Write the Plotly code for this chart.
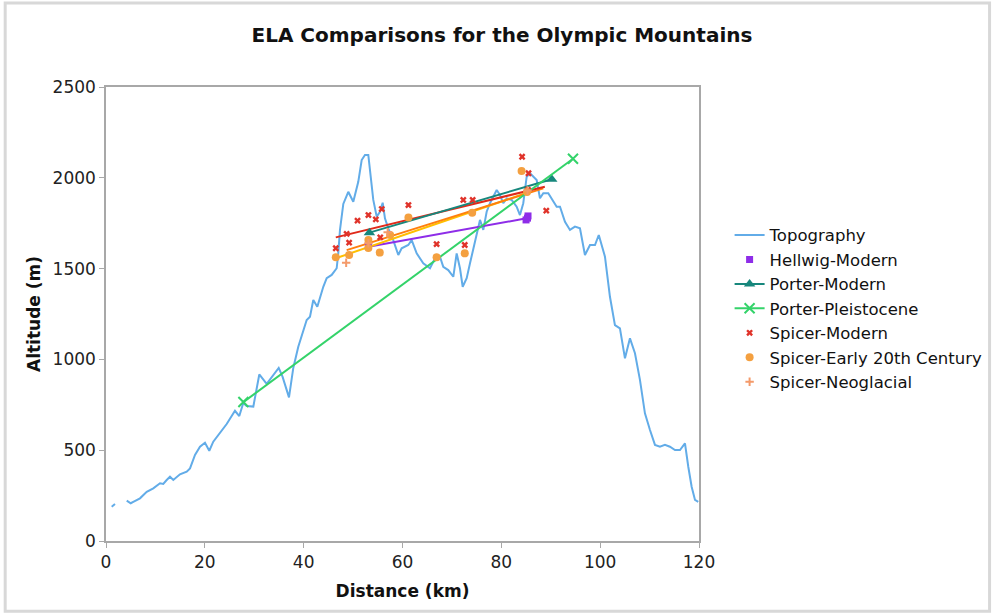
import plotly.graph_objects as go

# Topography profile across the range (km, m); None marks a gap in the survey
topo_km = [1.15, 1.82, None, 4.19, 5.0, 5.52, 6.88, 8.24, 9.57, 10.93, 11.59, 12.28, 12.95,
           13.62, 14.31, 14.97, 16.33, 17.0, 18.01, 19.02, 20.03, 20.9, 21.71, 23.07, 24.42,
           26.1, 26.97, 27.78, 28.47, 29.81, 31.02, 32.52, 34.95, 35.72, 37.03, 37.9, 38.91,
           40.61, 41.28, 41.95, 42.76, 43.97, 44.66, 45.67, 46.68, 47.0, 47.35, 48.02, 49.03,
           50.04, 51.05, 51.74, 52.41, 53.08, 53.42, 54.09, 54.78, 55.44, 55.99, 56.45, 57.12,
           58.13, 59.15, 59.83, 61.17, 61.86, 62.87, 64.2, 65.56, 66.92, 67.58, 68.25, 69.26,
           70.28, 70.96, 71.63, 72.18, 72.99, 73.66, 74.67, 75.68, 76.35, 77.03, 77.7, 78.37,
           79.06, 79.73, 80.39, 81.08, 82.09, 83.1, 83.77, 84.44, 85.13, 85.8, 87.15, 87.82,
           88.49, 89.5, 91.2, 91.87, 92.88, 93.89, 94.9, 95.91, 96.92, 97.94, 98.95, 99.72,
           100.97, 101.98, 102.99, 104.0, 105.02, 106.03, 107.04, 108.05, 109.06, 110.08,
           111.09, 112.1, 113.11, 114.12, 115.14, 116.15, 117.16, 117.83, 118.51, 119.19, 119.85]
topo_m = [189, 204, None, 222, 208, 216, 235, 271, 290, 318, 314, 336, 354,
          336, 351, 367, 382, 400, 474, 519, 541, 497, 547, 596, 644,
          717, 688, 760, 743, 740, 917, 865, 953, 905, 791, 953, 1070,
          1217, 1235, 1327, 1290, 1400, 1447, 1465, 1502, 1584, 1713, 1856, 1923,
          1868, 1978, 2098, 2126, 2126, 2043, 1878, 1786, 1813, 1863, 1777, 1722,
          1657, 1575, 1612, 1630, 1657, 1584, 1529, 1502, 1575, 1566, 1510, 1492,
          1455, 1584, 1502, 1400, 1447, 1529, 1657, 1768, 1713, 1813, 1860, 1896,
          1933, 1905, 1860, 1887, 1878, 1841, 1795, 1860, 2006, 2025, 1988, 1887,
          1915, 1915, 1841, 1841, 1758, 1713, 1731, 1722, 1575, 1630, 1630, 1685,
          1566, 1345, 1189, 1171, 1006, 1116, 1034, 887, 703, 611,
          529, 519, 529, 519, 501, 501, 538, 409, 299, 226, 216]

# ELA estimates
hellwig_km = [53.1, 85.0, 85.4, 85.3]
hellwig_m = [1622, 1768, 1790, 1778]

porter_mod_km = [53.3, 90.2]
porter_mod_m = [1698, 1992]

porter_pleist_km = [27.8, 94.5]
porter_pleist_m = [765, 2105]

spicer_mod_km = [46.5, 48.7, 49.2, 50.9, 53.1, 54.6, 55.8, 55.5, 61.2, 66.9, 72.3, 74.2,
                 72.6, 84.2, 85.5, 85.4, 89.1]
spicer_mod_m = [1612, 1691, 1643, 1764, 1795, 1771, 1828, 1672, 1850, 1635, 1878, 1878,
                1630, 2116, 2025, 1933, 1819]

spicer_early_km = [46.5, 49.2, 53.1, 53.1, 55.4, 57.5, 61.2, 66.9, 72.6, 74.1, 84.1, 85.2]
spicer_early_m = [1562, 1575, 1657, 1613, 1588, 1685, 1782, 1562, 1584, 1808, 2037, 1922]

spicer_neo_km = [48.6, 53.1, 57.0, 85.3]
spicer_neo_m = [1532, 1640, 1700, 1930]

# Linear trend lines (start / end)
trend_spicer_mod_km = [46.5, 88.8]
trend_spicer_mod_m = [1672, 1951]
trend_spicer_early_km = [48.7, 88.5]
trend_spicer_early_m = [1602, 1942]
trend_spicer_neo_km = [46.5, 85.8]
trend_spicer_neo_m = [1557, 1923]
trend_hellwig_km = [53.1, 85.1]
trend_hellwig_m = [1620, 1777]

C_TOPO = "#62ACE8"
C_HELL = "#8E2DE8"
C_PMOD = "#17877C"
C_PPLE = "#34D36A"
C_SMOD = "#E0332A"
C_SEAR = "#F4A040"
C_SNEO = "#F49A6A"

fig = go.Figure()

fig.add_trace(go.Scatter(x=topo_km, y=topo_m, mode="lines", name="Topography",
                         line=dict(color=C_TOPO, width=2), connectgaps=False))

# trend lines
for tx, ty, col in [(trend_hellwig_km, trend_hellwig_m, C_HELL),
                    (trend_spicer_neo_km, trend_spicer_neo_m, "#FFBF00"),
                    (trend_spicer_early_km, trend_spicer_early_m, "#FF7F0E"),
                    (trend_spicer_mod_km, trend_spicer_mod_m, "#E02A1A")]:
    fig.add_trace(go.Scatter(x=tx, y=ty, mode="lines", showlegend=False, hoverinfo="skip",
                             line=dict(color=col, width=2)))

fig.add_trace(go.Scatter(x=hellwig_km, y=hellwig_m, mode="markers", name="Hellwig-Modern",
                         marker=dict(symbol="square", size=7, color=C_HELL)))
fig.add_trace(go.Scatter(x=porter_mod_km, y=porter_mod_m, mode="lines+markers", name="Porter-Modern",
                         line=dict(color=C_PMOD, width=2),
                         marker=dict(symbol="triangle-up", size=10, color=C_PMOD)))
fig.add_trace(go.Scatter(x=porter_pleist_km, y=porter_pleist_m, mode="lines+markers",
                         name="Porter-Pleistocene", line=dict(color=C_PPLE, width=2),
                         marker=dict(symbol="x-thin-open", size=10, color=C_PPLE,
                                     line=dict(color=C_PPLE, width=2))))
fig.add_trace(go.Scatter(x=spicer_mod_km, y=spicer_mod_m, mode="markers", name="Spicer-Modern",
                         marker=dict(symbol="x", size=6, color=C_SMOD)))
fig.add_trace(go.Scatter(x=spicer_early_km, y=spicer_early_m, mode="markers",
                         name="Spicer-Early 20th Century",
                         marker=dict(symbol="circle", size=8, color=C_SEAR)))
fig.add_trace(go.Scatter(x=spicer_neo_km, y=spicer_neo_m, mode="markers", name="Spicer-Neoglacial",
                         marker=dict(symbol="cross-thin-open", size=6, color=C_SNEO,
                                     line=dict(color=C_SNEO, width=2))))

axis_common = dict(showgrid=False, zeroline=False, showline=True, mirror=True,
                   linecolor="#A8A8A8", linewidth=1.5, ticks="outside", ticklen=5,
                   tickcolor="#A8A8A8", tickfont=dict(size=17, color="#222222"))

fig.update_layout(
    width=994, height=615,
    margin=dict(l=106, r=295, t=87, b=74, autoexpand=False),
    paper_bgcolor="white", plot_bgcolor="white",
    font=dict(family="DejaVu Sans, Verdana, sans-serif", color="#111111"),
    title=dict(text="<b>ELA Comparisons for the Olympic Mountains</b>", x=0.505, xanchor="center",
               y=0.943, yanchor="middle", font=dict(size=20, color="#111111")),
    xaxis=dict(range=[0, 120], dtick=20,
               title=dict(text="<b>Distance (km)</b>", font=dict(size=17), standoff=14),
               **axis_common),
    yaxis=dict(range=[0, 2500], dtick=500,
               title=dict(text="<b>Altitude (m)</b>", font=dict(size=17), standoff=8),
               **axis_common),
    legend=dict(x=1.0516, y=0.712, xanchor="left", yanchor="top", font=dict(size=16.5),
                bgcolor="rgba(0,0,0,0)", tracegroupgap=0, itemwidth=30),
    showlegend=True,
)

# outer frame of the chart area
fig.add_shape(type="rect", xref="paper", yref="paper", x0=-0.17, x1=1.49, y0=-0.155, y1=1.185,
              line=dict(color="#D8D8D8", width=3), layer="below")

fig.write_html("out.html")
